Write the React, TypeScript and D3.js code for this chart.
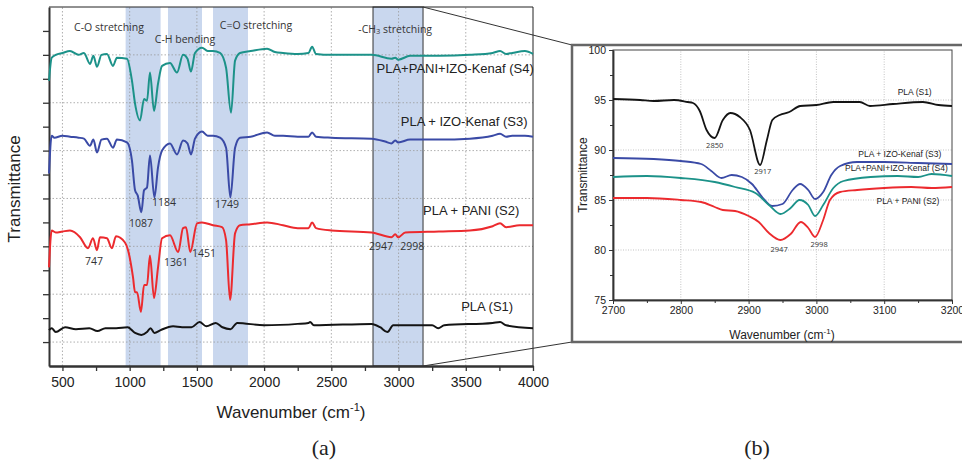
import React, { useEffect, useRef } from "react";
import * as d3 from "d3";

// ---- panel (a): full FTIR spectra, stacked with offsets (arbitrary units) ----
const seriesNames = ["PLA (S1)", "PLA + PANI (S2)", "PLA + IZO-Kenaf (S3)", "PLA+PANI+IZO-Kenaf (S4)"];
const seriesColors = ["#141414", "#ec2a2e", "#3a4aa6", "#1c9289"];

const fullS1: [number, number][] = [
  [400, 0.75], [420, 0.79], [450, 0.71], [520, 0.81], [600, 0.77], [700, 0.79], [760, 0.73], [820, 0.79],
  [900, 0.79], [985, 0.81], [1040, 0.69], [1087, 0.65], [1129, 0.71], [1155, 0.79], [1184, 0.69], [1230, 0.75],
  [1323, 0.83], [1390, 0.81], [1460, 0.81], [1520, 0.92], [1570, 0.83], [1640, 0.9], [1690, 0.81], [1750, 0.77],
  [1800, 0.9], [2000, 0.85], [2250, 0.88], [2330, 0.9], [2342, 0.92], [2370, 0.85], [2800, 0.88], [2863, 0.81],
  [2917, 0.71], [2960, 0.85], [3250, 0.85], [3295, 0.79], [3340, 0.85], [3700, 0.9], [3755, 0.92], [3800, 0.85],
  [4000, 0.79],
];
const fullS2: [number, number][] = [
  [400, 2.06], [420, 2.83], [450, 2.79], [500, 2.81], [556, 2.83], [631, 2.69], [690, 2.46], [727, 2.67],
  [757, 2.42], [779, 2.69], [831, 2.67], [868, 2.46], [898, 2.71], [965, 2.58], [988, 2.42], [1025, 1.85],
  [1040, 1.54], [1055, 1.54], [1084, 1.13], [1107, 1.69], [1129, 1.69], [1151, 2.31], [1181, 1.42], [1211, 2.06],
  [1241, 2.67], [1300, 2.73], [1361, 2.38], [1397, 2.88], [1419, 2.9], [1451, 2.38], [1501, 2.98], [1538, 3.0],
  [1620, 2.94], [1687, 2.9], [1717, 2.63], [1747, 1.38], [1784, 2.77], [1821, 2.94], [1900, 2.96], [2022, 3.0],
  [2141, 2.94], [2250, 2.88], [2330, 2.88], [2357, 3.0], [2386, 2.88], [2500, 2.83], [2800, 2.79], [2947, 2.69],
  [2975, 2.75], [2998, 2.69], [3050, 2.79], [3300, 2.81], [3530, 2.83], [3700, 2.92], [3755, 2.98], [3800, 2.9],
  [3900, 2.94], [4000, 2.94],
];
const fullS3: [number, number][] = [
  [400, 4.02], [420, 4.81], [440, 4.77], [500, 4.81], [556, 4.79], [620, 4.77], [660, 4.75], [705, 4.6],
  [730, 4.73], [757, 4.46], [790, 4.73], [831, 4.75], [876, 4.56], [905, 4.73], [980, 4.67], [1017, 4.29],
  [1040, 3.67], [1060, 3.56], [1087, 3.21], [1107, 3.67], [1129, 3.73], [1151, 4.4], [1184, 3.52], [1211, 4.15],
  [1241, 4.5], [1300, 4.65], [1352, 4.42], [1397, 4.71], [1430, 4.65], [1456, 4.42], [1486, 4.75], [1538, 4.9],
  [1580, 4.81], [1620, 4.81], [1672, 4.77], [1717, 4.56], [1749, 3.52], [1784, 4.56], [1821, 4.77], [1900, 4.79],
  [2022, 4.88], [2080, 4.81], [2141, 4.81], [2250, 4.79], [2330, 4.79], [2357, 4.88], [2386, 4.79], [2500, 4.77],
  [2800, 4.75], [2900, 4.69], [2947, 4.65], [2975, 4.71], [2998, 4.67], [3086, 4.73], [3300, 4.73], [3530, 4.75],
  [3700, 4.81], [3755, 4.85], [3800, 4.79], [3845, 4.81], [3940, 4.81], [4000, 4.79],
];
const fullS4: [number, number][] = [
  [400, 5.96], [420, 6.44], [450, 6.5], [500, 6.54], [556, 6.58], [620, 6.5], [660, 6.54], [705, 6.31],
  [730, 6.48], [757, 6.25], [790, 6.5], [831, 6.52], [876, 6.27], [905, 6.44], [980, 6.42], [1017, 5.96],
  [1040, 5.48], [1077, 5.13], [1107, 5.58], [1129, 5.54], [1151, 6.13], [1181, 5.33], [1211, 5.9], [1241, 6.27],
  [1300, 6.33], [1352, 6.13], [1397, 6.5], [1430, 6.42], [1456, 6.15], [1486, 6.54], [1538, 6.65], [1580, 6.58],
  [1620, 6.58], [1672, 6.54], [1717, 6.23], [1754, 5.29], [1784, 6.38], [1821, 6.54], [1900, 6.58], [2022, 6.63],
  [2080, 6.56], [2141, 6.54], [2250, 6.52], [2330, 6.54], [2357, 6.67], [2386, 6.52], [2500, 6.5], [2800, 6.5],
  [2947, 6.42], [2975, 6.44], [2998, 6.4], [3086, 6.48], [3300, 6.48], [3530, 6.5], [3700, 6.54], [3755, 6.58],
  [3800, 6.52], [3845, 6.54], [3940, 6.58], [4000, 6.52],
];

// shaded regions: [from, to, label, labelWavenumber, labelValue]
const bands: [number, number, string, number, number][] = [
  [970, 1230, "C-O stretching", 846, 7.05],
  [1285, 1538, "C-H bending", 1412, 6.8],
  [1620, 1880, "C=O stretching", 1940, 7.09],
];
const ch3Band: [number, number] = [2810, 3182];

// peak annotations in (a): [text, wavenumber, value]
const peaksA: [string, number, number][] = [
  ["747", 735, 2.17], ["1087", 1084, 2.97], ["1184", 1256, 3.4], ["1749", 1724, 3.36],
  ["1361", 1345, 2.15], ["1451", 1553, 2.34], ["2947", 2870, 2.49], ["2998", 3101, 2.49],
];
// series labels in (a): [wavenumber, value]
const labelPosA: [number, number][] = [[3659, 1.23], [3540, 3.22], [3488, 5.08], [3421, 6.2]];

// ---- panel (b): zoom of the -CH3 region ----
const zoomS1: [number, number][] = [
  [2700, 95.1], [2740, 95.0], [2760, 94.9], [2790, 95.0], [2810, 94.8], [2818, 94.7], [2828, 93.9], [2838, 92.0],
  [2850, 91.2], [2862, 93.0], [2873, 93.7], [2887, 93.3], [2902, 92.0], [2917, 88.5], [2927, 91.0], [2935, 93.0],
  [2946, 93.5], [2960, 93.8], [2976, 94.4], [3000, 94.5], [3025, 94.8], [3064, 94.8], [3079, 94.4], [3113, 94.6],
  [3157, 94.8], [3180, 94.5], [3200, 94.4],
];
const zoomS2: [number, number][] = [
  [2700, 85.2], [2750, 85.2], [2800, 85.0], [2830, 84.8], [2850, 84.3], [2862, 84.0], [2880, 83.9], [2900, 83.4],
  [2915, 82.8], [2930, 81.7], [2947, 81.0], [2962, 81.6], [2977, 82.8], [2988, 82.2], [2998, 81.3], [3010, 83.0],
  [3020, 85.0], [3035, 85.8], [3060, 86.0], [3100, 86.2], [3140, 86.3], [3170, 86.2], [3200, 86.3],
];
const zoomS3: [number, number][] = [
  [2700, 89.2], [2760, 89.1], [2800, 88.9], [2830, 88.6], [2845, 87.9], [2860, 87.2], [2875, 87.5], [2890, 87.3],
  [2905, 86.6], [2920, 85.3], [2935, 84.4], [2950, 84.6], [2965, 86.0], [2976, 86.6], [2988, 86.0], [2998, 85.1],
  [3010, 85.8], [3022, 87.5], [3035, 88.4], [3060, 88.8], [3100, 88.8], [3150, 88.7], [3200, 88.6],
];
const zoomS4: [number, number][] = [
  [2700, 87.3], [2750, 87.4], [2800, 87.2], [2850, 86.8], [2880, 86.3], [2910, 85.7], [2930, 84.5], [2947, 83.6],
  [2962, 84.2], [2975, 85.0], [2988, 84.5], [2998, 83.4], [3010, 84.5], [3025, 86.2], [3040, 86.9], [3080, 87.3],
  [3120, 87.4], [3150, 87.3], [3170, 87.6], [3200, 87.4],
];
const peaksB: [string, number, number][] = [
  ["2850", 2850, 90.4], ["2917", 2921, 87.8], ["2947", 2945, 80.0], ["2998", 3004, 80.5],
];
const labelPosB: [number, number][] = [[3145, 95.7], [3135, 84.8], [3123, 89.5], [3118, 88.1]];

const W = 962;
const H = 462;

const App = () => {
  const ref = useRef<SVGSVGElement>(null);

  useEffect(() => {
    const svg = d3.select(ref.current);
    svg.selectAll("*").remove();

    const sans = "'Liberation Sans', Arial, sans-serif";
    const soft = "'Open Sans', 'Noto Sans', sans-serif";

    // ---------------- (a) ----------------
    const xa = d3.scaleLinear().domain([400, 4000]).range([49, 533]);
    const ya = d3.scaleLinear().domain([0, 7.5]).range([366, 7]);
    const ga = svg.append("g");

    bands.forEach(([a, b]) => {
      ga.append("rect").attr("x", xa(a)).attr("y", ya(7.5)).attr("width", xa(b) - xa(a))
        .attr("height", ya(0) - ya(7.5)).attr("fill", "#c9d7ee");
    });
    ga.append("rect").attr("x", xa(ch3Band[0])).attr("y", ya(7.5)).attr("width", xa(ch3Band[1]) - xa(ch3Band[0]))
      .attr("height", ya(0) - ya(7.5)).attr("fill", "#c9d7ee").attr("stroke", "#333").attr("stroke-width", 1);

    // grid
    d3.range(500, 4000, 500).forEach((v) => {
      ga.append("line").attr("x1", xa(v)).attr("x2", xa(v)).attr("y1", ya(0)).attr("y2", ya(7.5))
        .attr("stroke", "#9a9a9a").attr("stroke-width", 0.8).attr("stroke-dasharray", "1.5,2");
    });
    d3.range(0.5, 7, 1).forEach((v) => {
      ga.append("line").attr("x1", xa(400)).attr("x2", xa(4000)).attr("y1", ya(v)).attr("y2", ya(v))
        .attr("stroke", "#9a9a9a").attr("stroke-width", 0.8).attr("stroke-dasharray", "1.5,2");
    });

    // frame
    ga.append("line").attr("x1", xa(400)).attr("x2", xa(4000)).attr("y1", ya(7.5)).attr("y2", ya(7.5)).attr("stroke", "#222");
    ga.append("line").attr("x1", xa(4000)).attr("x2", xa(4000)).attr("y1", ya(7.5)).attr("y2", ya(0)).attr("stroke", "#222");

    // axes
    const axB = ga.append("g").attr("transform", `translate(0,${ya(0)})`)
      .call(d3.axisBottom(xa).tickValues(d3.range(500, 4001, 500)).tickSize(5).tickSizeOuter(0).tickFormat(d3.format("d")));
    axB.append("g").call(d3.axisBottom(xa).tickValues(d3.range(750, 4000, 500)).tickSize(5).tickSizeOuter(0).tickFormat(() => ""));
    axB.selectAll("path.domain").attr("stroke", "#333").attr("stroke-width", 2);
    axB.selectAll("line").attr("stroke", "#333").attr("stroke-width", 1.3);
    axB.selectAll("text").attr("font-family", sans).attr("font-size", 14).attr("fill", "#222").attr("dy", "0.95em");

    const axL = ga.append("g").attr("transform", `translate(${xa(400)},0)`)
      .call(d3.axisLeft(ya).tickValues(d3.range(0.5, 7.1, 0.5)).tickSize(6).tickSizeOuter(0).tickFormat(() => ""));
    axL.selectAll("path.domain").attr("stroke", "#333").attr("stroke-width", 2);
    axL.selectAll("line").attr("stroke", "#333").attr("stroke-width", 1.3);

    // spectra
    const lineA = d3.line<[number, number]>().x((d) => xa(d[0])).y((d) => ya(d[1])).curve(d3.curveMonotoneX);
    [fullS1, fullS2, fullS3, fullS4].forEach((s, i) => {
      ga.append("path").datum(s).attr("d", lineA).attr("fill", "none").attr("stroke", seriesColors[i])
        .attr("stroke-width", 2).attr("stroke-linejoin", "round");
    });

    bands.forEach(([, , label, lx, ly]) => {
      ga.append("text").attr("x", xa(lx)).attr("y", ya(ly)).attr("text-anchor", "middle").attr("dominant-baseline", "middle")
        .attr("font-family", soft).attr("font-size", 10.5).attr("fill", "#333").text(label);
    });
    const ch3 = ga.append("text").attr("x", xa(2975)).attr("y", ya(7.02)).attr("text-anchor", "middle")
      .attr("dominant-baseline", "middle").attr("font-family", soft).attr("font-size", 10.5).attr("fill", "#333");
    ch3.append("tspan").text("-CH");
    ch3.append("tspan").attr("font-size", 7.5).attr("dy", 2).text("3");
    ch3.append("tspan").attr("dy", -2).text(" stretching");

    peaksA.forEach(([t, wx, wy]) => {
      ga.append("text").attr("x", xa(wx)).attr("y", ya(wy)).attr("text-anchor", "middle").attr("dominant-baseline", "middle")
        .attr("font-family", soft).attr("font-size", 10.5).attr("fill", "#333").text(t);
    });
    labelPosA.forEach(([wx, wy], i) => {
      ga.append("text").attr("x", xa(wx)).attr("y", ya(wy)).attr("text-anchor", "middle").attr("dominant-baseline", "middle")
        .attr("font-family", sans).attr("font-size", 13).attr("fill", "#222").text(seriesNames[i]);
    });

    ga.append("text").attr("transform", `translate(16,${ya(3.7)}) rotate(-90)`).attr("text-anchor", "middle")
      .attr("dominant-baseline", "middle").attr("font-family", sans).attr("font-size", 17).attr("fill", "#222").text("Transmittance");
    const xt = ga.append("text").attr("x", 291).attr("y", 418).attr("text-anchor", "middle")
      .attr("font-family", sans).attr("font-size", 17).attr("fill", "#222");
    xt.append("tspan").text("Wavenumber (cm");
    xt.append("tspan").attr("font-size", 11).attr("dy", -7).text("-1");
    xt.append("tspan").attr("dy", 7).text(")");

    // ---------------- (b) ----------------
    const xb = d3.scaleLinear().domain([2700, 3200]).range([613, 952]);
    const yb = d3.scaleLinear().domain([75, 100]).range([300, 50]);
    const gb = svg.append("g");

    // connector lines from the -CH3 band to the zoom frame
    gb.append("line").attr("x1", xa(ch3Band[1])).attr("y1", ya(7.5)).attr("x2", 572).attr("y2", 45).attr("stroke", "#333");
    gb.append("line").attr("x1", xa(ch3Band[1])).attr("y1", ya(0)).attr("x2", 572).attr("y2", 342).attr("stroke", "#333");
    gb.append("rect").attr("x", 572).attr("y", 45).attr("width", 420).attr("height", 297)
      .attr("fill", "#fff").attr("stroke", "#666").attr("stroke-width", 2.5);

    d3.range(2800, 3200, 100).forEach((v) => {
      gb.append("line").attr("x1", xb(v)).attr("x2", xb(v)).attr("y1", yb(75)).attr("y2", yb(100))
        .attr("stroke", "#aaa").attr("stroke-width", 0.7).attr("stroke-dasharray", "1,1.5");
    });
    d3.range(80, 100, 5).forEach((v) => {
      gb.append("line").attr("x1", xb(2700)).attr("x2", xb(3200)).attr("y1", yb(v)).attr("y2", yb(v))
        .attr("stroke", "#aaa").attr("stroke-width", 0.7).attr("stroke-dasharray", "1,1.5");
    });
    gb.append("rect").attr("x", xb(2700)).attr("y", yb(100)).attr("width", xb(3200) - xb(2700))
      .attr("height", yb(75) - yb(100)).attr("fill", "none").attr("stroke", "#444").attr("stroke-width", 1);

    const bxAx = gb.append("g").attr("transform", `translate(0,${yb(75)})`)
      .call(d3.axisBottom(xb).tickValues(d3.range(2700, 3201, 100)).tickSize(4).tickSizeOuter(0).tickFormat(d3.format("d")));
    bxAx.append("g").call(d3.axisBottom(xb).tickValues(d3.range(2750, 3200, 100)).tickSize(3).tickSizeOuter(0).tickFormat(() => ""));
    const byAx = gb.append("g").attr("transform", `translate(${xb(2700)},0)`)
      .call(d3.axisLeft(yb).tickValues(d3.range(75, 101, 5)).tickSize(4).tickSizeOuter(0).tickFormat(d3.format("d")));
    byAx.append("g").call(d3.axisLeft(yb).tickValues(d3.range(77.5, 100, 5)).tickSize(3).tickSizeOuter(0).tickFormat(() => ""));
    [bxAx, byAx].forEach((ax) => {
      ax.selectAll("path.domain").attr("stroke", "#333").attr("stroke-width", 1.5);
      ax.selectAll("line").attr("stroke", "#333");
      ax.selectAll("text").attr("font-family", sans).attr("font-size", 10.5).attr("fill", "#222");
    });

    const lineB = d3.line<[number, number]>().x((d) => xb(d[0])).y((d) => yb(d[1])).curve(d3.curveMonotoneX);
    [zoomS1, zoomS2, zoomS3, zoomS4].forEach((s, i) => {
      gb.append("path").datum(s).attr("d", lineB).attr("fill", "none").attr("stroke", seriesColors[i])
        .attr("stroke-width", 1.8);
    });

    peaksB.forEach(([t, wx, wy]) => {
      gb.append("text").attr("x", xb(wx)).attr("y", yb(wy)).attr("text-anchor", "middle").attr("dominant-baseline", "middle")
        .attr("font-family", soft).attr("font-size", 7.5).attr("fill", "#333").text(t);
    });
    labelPosB.forEach(([wx, wy], i) => {
      gb.append("text").attr("x", xb(wx)).attr("y", yb(wy)).attr("text-anchor", "middle").attr("dominant-baseline", "middle")
        .attr("font-family", sans).attr("font-size", 8.5).attr("fill", "#222").text(seriesNames[i]);
    });

    gb.append("text").attr("transform", `translate(584,${yb(87.5)}) rotate(-90)`).attr("text-anchor", "middle")
      .attr("dominant-baseline", "middle").attr("font-family", sans).attr("font-size", 12).attr("fill", "#222").text("Transmittance");
    const xtb = gb.append("text").attr("x", 782).attr("y", 339).attr("text-anchor", "middle")
      .attr("font-family", sans).attr("font-size", 12).attr("fill", "#222");
    xtb.append("tspan").text("Wavenumber (cm");
    xtb.append("tspan").attr("font-size", 8).attr("dy", -5).text("-1");
    xtb.append("tspan").attr("dy", 5).text(")");

    // panel letters
    svg.append("text").attr("x", 324).attr("y", 455).attr("text-anchor", "middle")
      .attr("font-family", "'Liberation Serif', serif").attr("font-size", 22).attr("fill", "#222").text("(a)");
    svg.append("text").attr("x", 757).attr("y", 455).attr("text-anchor", "middle")
      .attr("font-family", "'Liberation Serif', serif").attr("font-size", 22).attr("fill", "#222").text("(b)");
  }, []);

  return <svg ref={ref} width={W} height={H} style={{ position: "absolute", left: 0, top: 0, background: "#fff" }} />;
};

export default App;
